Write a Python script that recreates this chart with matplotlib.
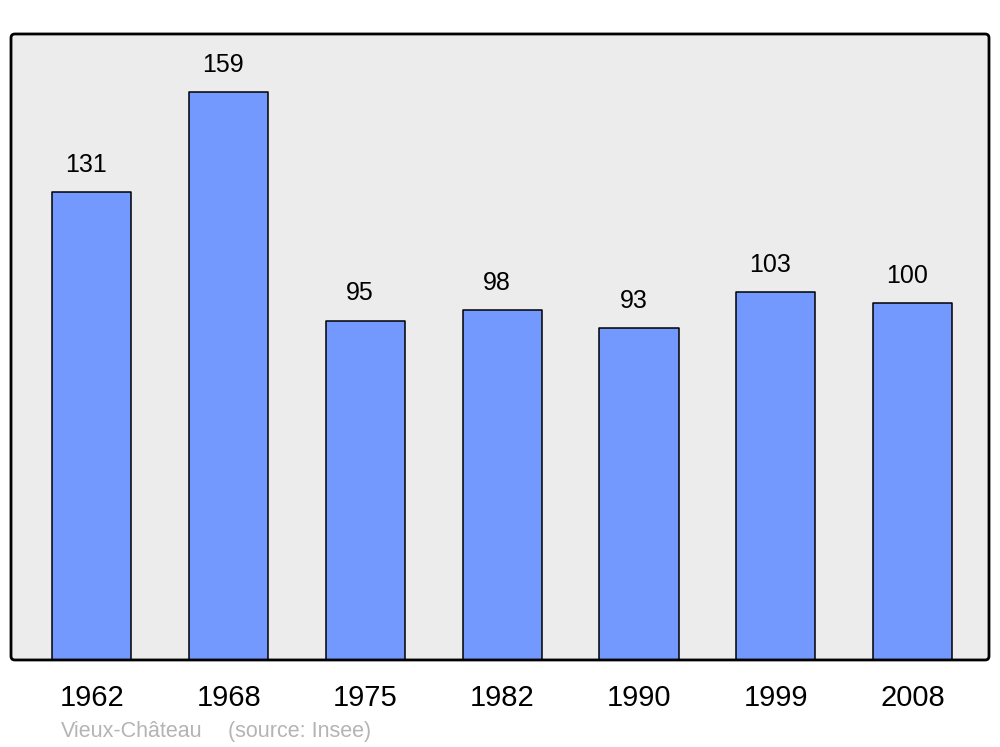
import matplotlib.pyplot as plt
from matplotlib.patches import FancyBboxPatch

plt.rcParams['font.family'] = ['Liberation Sans', 'DejaVu Sans']

# population data
years = ['1962', '1968', '1975', '1982', '1990', '1999', '2008']
population = [131, 159, 95, 98, 93, 103, 100]
commune = 'Vieux-Château'
source = '(source: Insee)'

fig = plt.figure(figsize=(10, 7.47), dpi=100)
fig.patch.set_facecolor('white')
ax = fig.add_axes([0.011, 0.1165, 0.978, 0.838])
ax.set_facecolor('#ececec')
ax.patch.set_visible(False)

x = range(len(years))
bars = ax.bar(x, population, width=0.578, color='#7399ff', edgecolor='black',
              linewidth=1.1, joinstyle='round', zorder=3)

# value labels above bars
for xi, v in zip(x, population):
    ax.annotate(str(v), (xi, v), textcoords='offset points', xytext=(-4, 14.5),
                ha='center', va='baseline', fontsize=18)

ax.set_xlim(-0.592, 6.559)
ax.set_ylim(0, 175.2)
ax.set_xticks(list(x))
ax.set_xticklabels(years, fontsize=21)
ax.tick_params(axis='x', length=0, pad=17)
ax.set_yticks([])
for s in ax.spines.values():
    s.set_visible(False)

# rounded background + frame
bg = FancyBboxPatch((0, 0), 1, 1, boxstyle='round,pad=0,rounding_size=0.004',
                    mutation_aspect=1.56, transform=ax.transAxes,
                    facecolor='#ececec', edgecolor='none', clip_on=False, zorder=0)
ax.add_patch(bg)
frame = FancyBboxPatch((0, 0), 1, 1, boxstyle='round,pad=0,rounding_size=0.004',
                       mutation_aspect=1.56, transform=ax.transAxes, fill=False,
                       edgecolor='black', linewidth=2, clip_on=False, zorder=5)
ax.add_patch(frame)

# footer
fig.text(0.061, 0.013, commune, fontsize=15.5, color='#b4b4b4', ha='left', va='baseline')
fig.text(0.228, 0.013, source, fontsize=15.5, color='#b4b4b4', ha='left', va='baseline')

fig.savefig('out.png', dpi=100)
